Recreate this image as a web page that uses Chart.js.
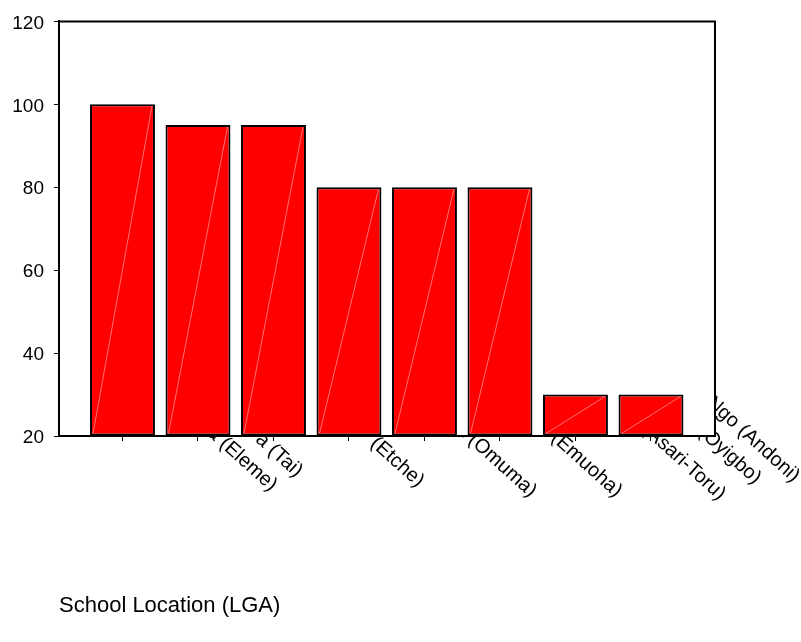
<!DOCTYPE html>
<html>
<head>
<meta charset="utf-8">
<title>School Location (LGA)</title>
<script src="https://cdn.jsdelivr.net/npm/chart.js@4.4.1/dist/chart.umd.min.js"></script>
<style>
  html, body { margin: 0; padding: 0; background: #fff; }
  canvas { display: block; }
</style>
</head>
<body>
<canvas id="schoolChart" width="801" height="642"></canvas>
<script>
// values per school location
const locations = ["a (Eleme)", "a (Tai)", "(Etche)", "a (Omuma)", "a (Emuoha)", "(Asari-Toru)", "(Oyigbo)", "Ngo (Andoni)"];
const scores = [100, 95, 95, 80, 80, 80, 30, 30];
const yTicks = [20, 40, 60, 80, 100, 120];

// end point of each slanted name, measured from its tick and from the axis line
const labelShiftX = [148, 98, 144, 181, 191, 219, 179, 142];
const labelDrop = [56, 42, 52, 62, 62, 65, 49, 47];
const labelAngle = 42;

Chart.defaults.font.family = '"Liberation Sans", Arial, sans-serif';
Chart.defaults.color = "#000";

// box round the plot (the axes only give left and bottom)
const framePlugin = {
  id: "frame",
  afterDatasetsDraw(chart) {
    const { ctx, chartArea: a } = chart;
    ctx.save();
    ctx.strokeStyle = "#000";
    ctx.lineWidth = 2;
    ctx.beginPath();
    ctx.moveTo(a.left, a.top);
    ctx.lineTo(a.right, a.top);
    ctx.lineTo(a.right, a.bottom);
    ctx.stroke();
    ctx.restore();
  }
};

// thin light diagonal across each bar
const sheenPlugin = {
  id: "sheen",
  afterDatasetsDraw(chart) {
    const { ctx } = chart;
    ctx.save();
    ctx.strokeStyle = "rgba(255, 190, 190, 0.6)";
    ctx.lineWidth = 1;
    chart.getDatasetMeta(0).data.forEach(bar => {
      const { x, y, base, width } = bar.getProps(["x", "y", "base", "width"], true);
      ctx.beginPath();
      ctx.moveTo(x - width / 2 + 3, base - 2);
      ctx.lineTo(x + width / 2 - 3, y + 2);
      ctx.stroke();
    });
    ctx.restore();
  }
};

// category names, slanted down to the right; whatever falls inside the plot is hidden
const slantedNames = {
  id: "slantedNames",
  afterDraw(chart) {
    const { ctx, chartArea: a, scales: { x } } = chart;
    ctx.save();
    ctx.beginPath();
    ctx.rect(0, 0, chart.width, chart.height);
    ctx.rect(a.left, a.top, a.right - a.left, a.bottom - a.top);
    ctx.clip("evenodd");
    ctx.font = '20px "Liberation Sans", Arial, sans-serif';
    ctx.fillStyle = "#000";
    ctx.textAlign = "right";
    ctx.textBaseline = "alphabetic";
    locations.forEach((name, i) => {
      ctx.save();
      ctx.translate(x.getPixelForValue(i + 1) + labelShiftX[i], a.bottom + labelDrop[i]);
      ctx.rotate(labelAngle * Math.PI / 180);
      ctx.fillText(name, 0, 0);
      ctx.restore();
    });
    ctx.restore();
  }
};

const ctx = document.getElementById("schoolChart").getContext("2d");
const schoolChart = new Chart(ctx, {
  type: "bar",
  data: {
    datasets: [
      {
        data: scores.map((v, i) => ({ x: i + 1, y: v })),
        base: 20,
        backgroundColor: "#ff0000",
        borderColor: "#000",
        borderWidth: 2,
        borderSkipped: false,
        categoryPercentage: 1,
        barPercentage: 0.86,
      },
    ],
  },
  options: {
    responsive: false,
    animation: false,
    devicePixelRatio: 1,
    layout: { padding: { top: 20, right: 86, left: 0, bottom: 0 } },
    plugins: {
      legend: { display: false },
      tooltip: { enabled: false },
    },
    scales: {
      x: {
        type: "linear",
        offset: false,
        min: 0.159,
        max: 8.848,
        afterBuildTicks: scale => {
          scale.ticks = locations.map((_, i) => ({ value: i + 1 }));
        },
        afterFit: scale => {
          scale.height = 206;
        },
        grid: { offset: false, drawOnChartArea: false, drawTicks: true, tickLength: 5, color: "#000", lineWidth: 1 },
        border: { color: "#000", width: 2 },
        ticks: { display: false },
        title: {
          display: true,
          text: "School Location (LGA)",
          align: "start",
          color: "#000",
          font: { size: 22 },
          padding: { top: 0, bottom: 23 },
        },
      },
      y: {
        min: 20,
        max: 120,
        afterBuildTicks: scale => {
          scale.ticks = yTicks.map(v => ({ value: v }));
        },
        afterFit: scale => {
          scale.width = 59;
        },
        grid: { drawOnChartArea: false, drawTicks: true, tickLength: 5, color: "#000", lineWidth: 1 },
        border: { color: "#000", width: 2 },
        ticks: { color: "#000", padding: 10, font: { size: 19 }, labelOffset: 2 },
      },
    },
  },
  plugins: [framePlugin, sheenPlugin, slantedNames],
});
</script>
</body>
</html>
